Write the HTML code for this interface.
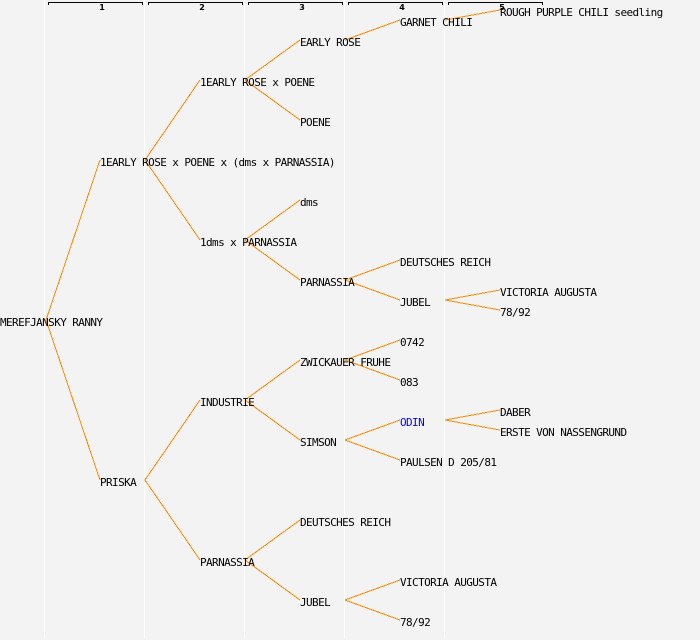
<!DOCTYPE html>
<html><head><meta charset="utf-8"><style>
html,body{margin:0;padding:0;background:#f3f3f3;}
svg{display:block;}
text{font-family:"DejaVu Sans Mono","Liberation Mono",monospace;font-size:11px;letter-spacing:-0.6px;fill:#000;}
.h{font-family:"DejaVu Sans","Liberation Sans",sans-serif;font-size:8px;letter-spacing:0;font-weight:bold;text-anchor:middle;}
</style></head><body>
<svg width="700" height="640" viewBox="0 0 700 640" xmlns="http://www.w3.org/2000/svg">
<rect width="700" height="640" fill="#f3f3f3"/>
<g stroke="#ffffff" stroke-width="1">
<line x1="44.5" y1="0" x2="44.5" y2="638"/>
<line x1="144.5" y1="0" x2="144.5" y2="638"/>
<line x1="244.5" y1="0" x2="244.5" y2="638"/>
<line x1="344.5" y1="0" x2="344.5" y2="638"/>
<line x1="444.5" y1="0" x2="444.5" y2="638"/>
</g>
<g stroke="#000" stroke-width="1" fill="none" shape-rendering="crispEdges">
<path d="M48.5,5 V2.5 H142.5 V5"/>
<path d="M148.5,5 V2.5 H242.5 V5"/>
<path d="M248.5,5 V2.5 H342.5 V5"/>
<path d="M348.5,5 V2.5 H442.5 V5"/>
<path d="M448.5,5 V2.5 H542.5 V5"/>
</g>
<text class="h" x="102" y="10">1</text>
<text class="h" x="202" y="10">2</text>
<text class="h" x="302" y="10">3</text>
<text class="h" x="402" y="10">4</text>
<text class="h" x="502" y="10">5</text>
<g stroke="#ff8800" stroke-width="1" fill="none" shape-rendering="crispEdges">
<path d="M46,320 L100,160 M46,320 L100,480"/>
<path d="M145,160 L200,80 M145,160 L200,240"/>
<path d="M145,480 L200,400 M145,480 L200,560"/>
<path d="M245,80 L300,40 M245,80 L300,120"/>
<path d="M245,240 L300,200 M245,240 L300,280"/>
<path d="M245,400 L300,360 M245,400 L300,440"/>
<path d="M245,560 L300,520 M245,560 L300,600"/>
<path d="M345,40 L400,20"/>
<path d="M345,280 L400,260 M345,280 L400,300"/>
<path d="M345,360 L400,340 M345,360 L400,380"/>
<path d="M345,440 L400,420 M345,440 L400,460"/>
<path d="M345,600 L400,580 M345,600 L400,620"/>
<path d="M445,20 L500,10"/>
<path d="M445,300 L500,290 M445,300 L500,310"/>
<path d="M445,420 L500,410 M445,420 L500,430"/>
</g>
<text x="0" y="326">MEREFJANSKY RANNY</text>
<text x="100" y="166">1EARLY ROSE x POENE x (dms x PARNASSIA)</text>
<text x="100" y="486">PRISKA</text>
<text x="200" y="86">1EARLY ROSE x POENE</text>
<text x="200" y="246">1dms x PARNASSIA</text>
<text x="200" y="406">INDUSTRIE</text>
<text x="200" y="566">PARNASSIA</text>
<text x="300" y="46">EARLY ROSE</text>
<text x="300" y="126">POENE</text>
<text x="300" y="206">dms</text>
<text x="300" y="286">PARNASSIA</text>
<text x="300" y="366">ZWICKAUER FRUHE</text>
<text x="300" y="446">SIMSON</text>
<text x="300" y="526">DEUTSCHES REICH</text>
<text x="300" y="606">JUBEL</text>
<text x="400" y="26">GARNET CHILI</text>
<text x="400" y="266">DEUTSCHES REICH</text>
<text x="400" y="306">JUBEL</text>
<text x="400" y="346">0742</text>
<text x="400" y="386">083</text>
<text x="400" y="426" style="fill:#0000ff">ODIN</text>
<text x="400" y="466">PAULSEN D 205/81</text>
<text x="400" y="586">VICTORIA AUGUSTA</text>
<text x="400" y="626">78/92</text>
<text x="500" y="16">ROUGH PURPLE CHILI seedling</text>
<text x="500" y="296">VICTORIA AUGUSTA</text>
<text x="500" y="316">78/92</text>
<text x="500" y="416">DABER</text>
<text x="500" y="436">ERSTE VON NASSENGRUND</text>
</svg>
</body></html>
